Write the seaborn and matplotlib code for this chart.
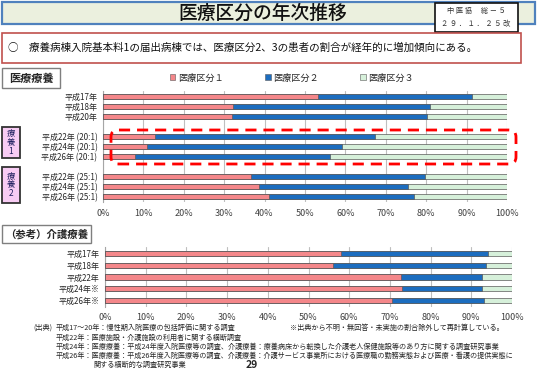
import numpy as np
import pandas as pd
import seaborn as sns
import matplotlib
matplotlib.use('Agg')
from matplotlib import pyplot as plt
from matplotlib.patches import Rectangle, FancyBboxPatch, Patch
from matplotlib.transforms import IdentityTransform

# data (percent)
med_labels = ['平成17年', '平成18年', '平成20年',
              '平成22年 (20:1)', '平成24年 (20:1)', '平成26年 (20:1)',
              '平成22年 (25:1)', '平成24年 (25:1)', '平成26年 (25:1)']
med_k1 = [53.1, 32.3, 32.0, 12.9, 11.0, 7.9, 36.7, 38.7, 41.0]
med_k2 = [38.3, 48.7, 48.2, 54.5, 48.2, 48.2, 43.1, 36.9, 36.0]
med_k3 = [8.6, 19.0, 19.8, 32.6, 40.8, 43.9, 20.2, 24.4, 23.0]

care_labels = ['平成17年', '平成18年', '平成22年', '平成24年※', '平成26年※']
care_k1 = [58.0, 55.9, 72.8, 73.0, 70.5]
care_k2 = [36.0, 37.6, 19.9, 19.7, 22.6]
care_k3 = [6.0, 6.5, 7.3, 7.3, 6.9]

legend_names = ['医療区分１', '医療区分２', '医療区分３']
colors = ['#F4878A', '#1C6DBF', '#D6F0DA']

sns.set_style('white')
plt.rcParams['font.family'] = ['Noto Sans CJK JP', 'DejaVu Sans']

W, H = 537, 370
fig = plt.figure(figsize=(W / 100, H / 100), dpi=100)


def fx(x):
    return x / W


def fy(y):
    return 1 - y / H


def box(x0, y0, x1, y1, fc, ec, lw):
    fig.add_artist(Rectangle((x0, H - y1), x1 - x0, y1 - y0, transform=IdentityTransform(),
                             facecolor=fc, edgecolor=ec, linewidth=lw))


def stacked(ax, labels, k1, k2, k3, order, width):
    df = pd.DataFrame({'label': labels, 'k1': k1, 'k2': k2, 'k3': k3})
    df['c2'] = df['k1'] + df['k2']
    df['c3'] = df['c2'] + df['k3']
    for col, c in zip(['c3', 'c2', 'k1'], colors[::-1]):
        sns.barplot(data=df, x=col, y='label', order=order, orient='h', color=c,
                    width=width, edgecolor='#595959', linewidth=0.5, errorbar=None,
                    saturation=1, ax=ax, zorder=3)
    ax.set_xlim(0, 100)
    ax.set_xticks(np.arange(0, 101, 10))
    ax.set_xticklabels([f'{v}%' for v in range(0, 101, 10)])
    ax.grid(axis='x', color='#BFBFBF', linewidth=0.8, zorder=0)
    ax.set_axisbelow(True)
    ax.set_xlabel('')
    ax.set_ylabel('')
    for s in ['top', 'right', 'bottom']:
        ax.spines[s].set_visible(False)
    ax.spines['left'].set_color('#A6A6A6')
    ax.tick_params(axis='x', length=0, labelsize=6.5, labelcolor='#404040', pad=5)
    ax.tick_params(axis='y', length=0, labelsize=5.8, labelcolor='#262626', pad=4)
    ax.set_yticks(np.arange(len(order)) + 0.5, minor=True)
    ax.tick_params(axis='y', which='minor', length=3, color='#A6A6A6')
    ax.set_ylim(len(order) - 0.5, -0.5)


# header boxes
box(2, 2, 535, 24, '#EBF0DE', '#4F81BD', 1.6)
fig.text(fx(263), fy(13), '医療区分の年次推移', ha='center', va='center', fontsize=13.5,
         fontweight='medium', color='#111111')
box(435, 3, 518, 32, 'white', '#111111', 1.2)
fig.text(fx(476), fy(11), '中 医 協　 総 － ５', ha='center', va='center', fontsize=5.2, color='#333333')
fig.text(fx(476), fy(24), '２ ９ ． １ ． ２ ５ 改', ha='center', va='center', fontsize=5.2, color='#333333')
box(2, 33, 521, 63, 'white', '#C0504D', 1.2)
fig.text(fx(8), fy(48), '○　療養病棟入院基本料1の届出病棟では、医療区分2、3の患者の割合が経年的に増加傾向にある。',
         ha='left', va='center', fontsize=7.6, color='#111111')

# section labels
box(2, 68, 60, 88, 'white', '#7F7F7F', 1.0)
fig.text(fx(31), fy(78), '医療療養', ha='center', va='center', fontsize=8, fontweight='bold')
box(2, 127, 20, 158, '#F8CCF4', '#333333', 1.3)
fig.text(fx(11), fy(142.5), '療\n養\n1', ha='center', va='center', fontsize=6, linespacing=1.0, color='#1F1F5F')
box(2, 167, 20, 203, '#F8CCF4', '#333333', 1.3)
fig.text(fx(11), fy(185), '療\n養\n2', ha='center', va='center', fontsize=6, linespacing=1.0, color='#1F1F5F')
box(2, 225, 91, 243, 'white', '#7F7F7F', 1.0)
fig.text(fx(46.5), fy(234), '（参考）介護療養', ha='center', va='center', fontsize=7.5, fontweight='bold')

# top chart
ax1 = fig.add_axes([fx(103), fy(202), (507 - 103) / W, (202 - 91) / H])
order1 = med_labels[:3] + [' '] + med_labels[3:6] + ['  '] + med_labels[6:]
stacked(ax1, med_labels, med_k1, med_k2, med_k3, order1, 0.5)
ax1.set_yticks(range(len(order1)))
ax1.set_yticklabels(order1)

handles = [Patch(facecolor=c, edgecolor='#595959', linewidth=0.4) for c in colors]
fig.legend(handles, legend_names, loc='center', bbox_to_anchor=(fx(292), fy(78)), ncol=3,
           frameon=False, fontsize=6.6, handlelength=0.6, handleheight=0.6, handletextpad=0.3,
           columnspacing=4.5)

# bottom chart
ax2 = fig.add_axes([fx(105), fy(306.5), (512 - 105) / W, (306.5 - 247.5) / H])
stacked(ax2, care_labels, care_k1, care_k2, care_k3, care_labels, 0.45)

# red dashed highlight
fig.add_artist(FancyBboxPatch((111, H - 164), 405, 34, boxstyle='round,pad=0,rounding_size=7',
                              transform=IdentityTransform(), fill=False, edgecolor='#FF0000',
                              linewidth=2, linestyle=(0, (4, 2.5)), zorder=10))

# notes
fs = 5.15
fig.text(fx(33), fy(328), '(出典)', fontsize=fs, va='center')
fig.text(fx(56), fy(328), '平成17～20年：慢性期入院医療の包括評価に関する調査', fontsize=fs, va='center')
fig.text(fx(290), fy(328), '※出典から不明・無回答・未実施の割合除外して再計算している。', fontsize=fs, va='center')
fig.text(fx(56), fy(337.5), '平成22年：医療施設・介護施設の利用者に関する横断調査', fontsize=fs, va='center')
fig.text(fx(56), fy(347), '平成24年：医療療養：平成24年度入院医療等の調査、介護療養：療養病床から転換した介護老人保健施設等のあり方に関する調査研究事業',
         fontsize=fs, va='center')
fig.text(fx(56), fy(356), '平成26年：医療療養：平成26年度入院医療等の調査、介護療養：介護サービス事業所における医療職の勤務実態および医療・看護の提供実態に',
         fontsize=fs, va='center')
fig.text(fx(93), fy(364.5), '関する横断的な調査研究事業', fontsize=fs, va='center')
fig.text(fx(252), fy(364.5), '29', fontsize=7.5, fontweight='bold', ha='center', va='center')

fig.savefig('out.png', dpi=100)
